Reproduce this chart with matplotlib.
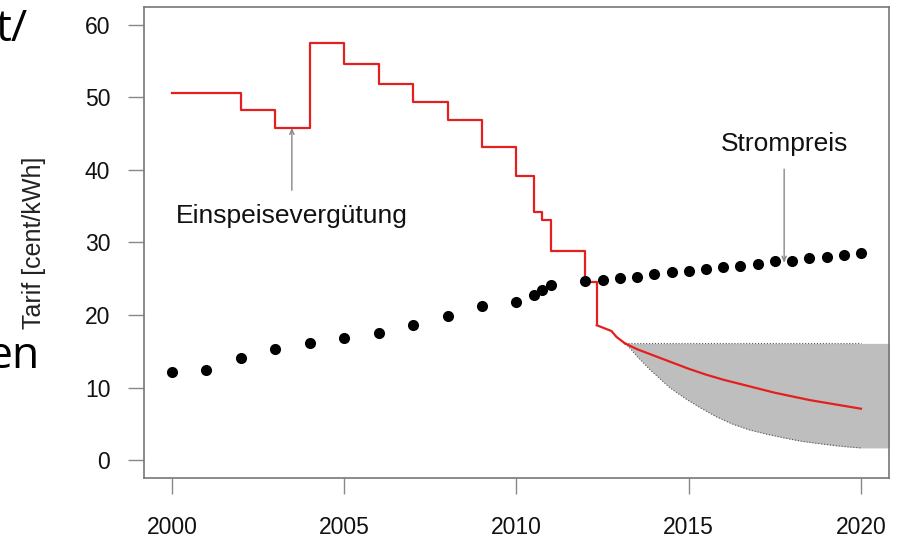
import matplotlib
matplotlib.use("Agg")
import matplotlib.pyplot as plt

plt.rcParams['font.family'] = ['Liberation Sans', 'DejaVu Sans']

# Einspeisevergütung, step part (value valid from year on)
step_years = [2000, 2002, 2003, 2004, 2005, 2006, 2007, 2008, 2009, 2010,
              2010.5, 2010.75, 2011, 2012, 2012.33]
step_vals = [50.6, 48.2, 45.8, 57.5, 54.6, 51.9, 49.3, 46.9, 43.1, 39.2,
             34.2, 33.1, 28.8, 24.5, 18.6]

# monthly degression 2012/2013 and forecast
slope_years = [2012.33, 2012.76, 2012.9, 2013.15]
slope_vals = [18.6, 17.8, 17.0, 16.1]
fc_years = [2013.15, 2013.5, 2014, 2014.5, 2015, 2015.5, 2016, 2016.5, 2017,
            2017.5, 2018, 2018.5, 2019, 2019.5, 2020]
fc_vals = [16.1, 15.3, 14.4, 13.5, 12.6, 11.8, 11.1, 10.5, 9.9,
           9.3, 8.8, 8.3, 7.9, 7.5, 7.1]

# forecast band
band_years = [2013.15, 2013.3, 2013.5, 2013.87, 2014.45, 2014.9, 2015.33, 2015.8,
              2016.29, 2016.75, 2017.26, 2017.75, 2018.23, 2018.7, 2019.2, 2019.6, 2020]
band_low = [16.1, 15.4, 14.3, 12.5, 10.0, 8.5, 7.25, 6.0,
            4.95, 4.2, 3.6, 3.1, 2.65, 2.35, 2.05, 1.85, 1.7]
band_high = [16.1] * len(band_years)

# Strompreis
price_years = [2000, 2001, 2002, 2003, 2004, 2005, 2006, 2007, 2008, 2009,
               2010, 2010.5, 2010.75, 2011,
               2012, 2012.5, 2013, 2013.5, 2014, 2014.5, 2015, 2015.5, 2016,
               2016.5, 2017, 2017.5, 2018, 2018.5, 2019, 2019.5, 2020]
price_vals = [12.1, 12.4, 14.1, 15.3, 16.1, 16.8, 17.6, 18.7, 19.9, 21.3,
              21.8, 22.7, 23.4, 24.2,
              24.7, 24.9, 25.1, 25.3, 25.6, 25.9, 26.1, 26.3, 26.6,
              26.8, 27.1, 27.4, 27.5, 27.8, 28.0, 28.3, 28.5]

fig = plt.figure(figsize=(9.03, 5.4), dpi=100)
ax = fig.add_axes([0.1599, 0.1154, 0.8241, 0.8711])

red = '#e3201f'

# gray band, continues to the frame edge
bx = band_years + [2021]
ax.fill_between(bx, band_low + [band_low[-1]], band_high + [band_high[-1]],
                color='#bebebe', lw=0, zorder=1)
ax.plot(band_years, band_high, color='#555555', lw=0.8, ls=':', zorder=2)
ax.plot(band_years, band_low, color='#555555', lw=0.8, ls=':', zorder=2)

ax.step(step_years, step_vals, where='post', color=red, lw=1.6, zorder=3)
ax.plot(slope_years, slope_vals, color=red, lw=1.6, zorder=3)
ax.plot(fc_years, fc_vals, color=red, lw=1.6, zorder=3)

ax.plot(price_years, price_vals, 'o', color='black', ms=8, mew=0, zorder=4)

# annotations
arrow = dict(arrowstyle='->,head_length=0.35,head_width=0.15', color='#888888', lw=1,
             shrinkA=0, shrinkB=0)
ax.annotate('', xy=(2003.48, 45.8), xytext=(2003.48, 37.2), arrowprops=arrow)
ax.text(2003.48, 33.6, 'Einspeisevergütung', ha='center', va='center',
        fontsize=19, color='#111111')
ax.annotate('', xy=(2017.77, 27.2), xytext=(2017.77, 40.1), arrowprops=arrow)
ax.text(2017.77, 43.5, 'Strompreis', ha='center', va='center',
        fontsize=19, color='#111111')

ax.set_xlim(1999.2, 2020.8)
ax.set_ylim(-2.4, 62.4)
ax.set_xticks([2000, 2005, 2010, 2015, 2020])
ax.set_yticks([0, 10, 20, 30, 40, 50, 60])
ax.tick_params(length=11.5, width=1, color='#888888', labelsize=16.5,
               labelcolor='#111111')
ax.tick_params(axis='x', pad=16)
ax.tick_params(axis='y', pad=13)
for s in ax.spines.values():
    s.set_color('#777777')
    s.set_linewidth(1.2)
ax.set_ylabel('Tarif [cent/kWh]', fontsize=18, color='#222222', labelpad=28)

# cut-off slide text at the left edge
fig.text(28 / 903, 1 - 41 / 540, 't/', ha='right', va='baseline', fontsize=32,
         family='Open Sans', color='black')
fig.text(40 / 903, 1 - 368 / 540, 'en', ha='right', va='baseline', fontsize=32,
         family='Open Sans', color='black')

fig.savefig('out.png', dpi=100)
